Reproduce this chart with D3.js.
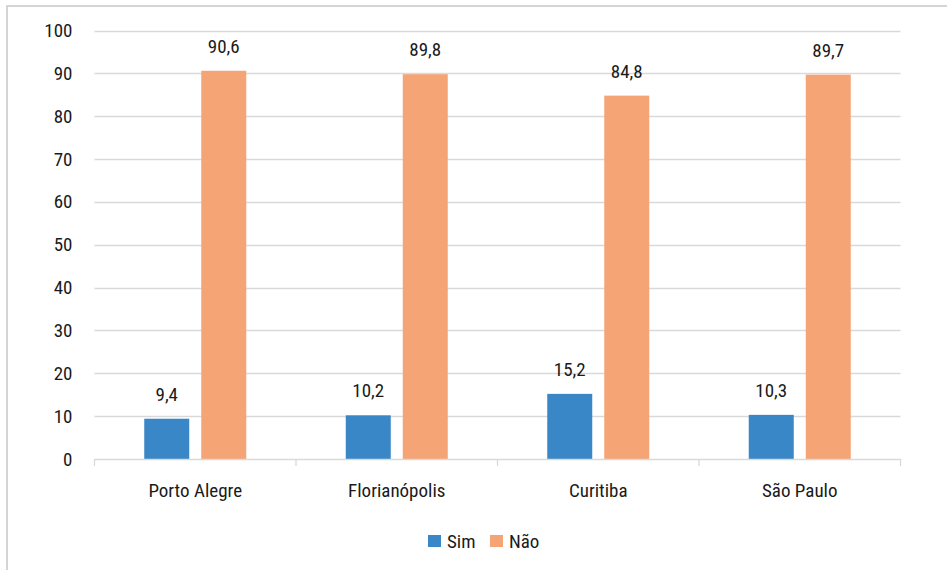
<!DOCTYPE html>
<html>
<head>
<meta charset="utf-8">
<script src="https://cdn.jsdelivr.net/npm/d3@7"></script>
<style>
  html, body { margin: 0; padding: 0; background: #fff; }
  svg { display: block; }
  text { font-family: "Roboto Condensed", Roboto, "Liberation Sans Narrow", sans-serif; fill: #1a1a1a; }
</style>
</head>
<body>
<svg id="chart" width="947" height="570"></svg>
<script>
// Cities and the share of answers "Sim" / "Não" (%)
const categories = ["Porto Alegre", "Florianópolis", "Curitiba", "São Paulo"];
const seriesNames = ["Sim", "Não"];
const simValues = [9.4, 10.2, 15.2, 10.3];
const naoValues = [90.6, 89.8, 84.8, 89.7];
const yTicks = [0, 10, 20, 30, 40, 50, 60, 70, 80, 90, 100];
const colors = ["#3a87c8", "#f4a475"];

const series = [simValues, naoValues];

const svg = d3.select("#chart");
const W = 947, H = 570;
const FS = 19;

// outer frame (left and top edges visible)
svg.append("rect")
  .attr("x", 7).attr("y", 6)
  .attr("width", W + 20).attr("height", H + 20)
  .attr("fill", "none")
  .attr("stroke", "#c8c8c8")
  .attr("stroke-width", 1.5);

const margin = { left: 94.5, right: 46.5, top: 30.5, bottom: 111 };
const x0 = d3.scaleBand()
  .domain(categories)
  .range([margin.left, W - margin.right])
  .paddingInner(0).paddingOuter(0);

const y = d3.scaleLinear()
  .domain([0, 100])
  .range([H - margin.bottom, margin.top]);

const barW = 45, gap = 12;
const x1 = d3.scaleOrdinal()
  .domain(seriesNames)
  .range([-(barW + gap / 2), gap / 2]);

// horizontal gridlines
svg.append("g")
  .selectAll("line")
  .data(yTicks.filter(d => d > 0))
  .join("line")
  .attr("x1", margin.left).attr("x2", W - margin.right)
  .attr("y1", d => Math.round(y(d)) + 0.5)
  .attr("y2", d => Math.round(y(d)) + 0.5)
  .attr("stroke", "#d9d9d9")
  .attr("stroke-width", 1.3);

// y-axis labels
const yAxis = d3.axisLeft(y).tickValues(yTicks).tickSize(0).tickPadding(22);
const gy = svg.append("g")
  .attr("transform", `translate(${margin.left},0)`)
  .call(yAxis);
gy.select(".domain").remove();
gy.selectAll("text")
  .attr("font-size", FS)
  .attr("fill", "#1a1a1a")
  .style("font-family", null);

// bars
const groups = svg.append("g")
  .selectAll("g")
  .data(categories)
  .join("g")
  .attr("transform", d => `translate(${x0(d) + x0.bandwidth() / 2},0)`);

seriesNames.forEach((name, si) => {
  groups.append("rect")
    .attr("x", x1(name))
    .attr("width", barW)
    .attr("y", (d, i) => y(series[si][i]))
    .attr("height", (d, i) => y(0) - y(series[si][i]))
    .attr("fill", colors[si]);

  groups.append("text")
    .attr("x", x1(name) + barW / 2)
    .attr("y", (d, i) => y(series[si][i]) - 18)
    .attr("text-anchor", "middle")
    .attr("font-size", FS)
    .text((d, i) => d3.format(".1f")(series[si][i]).replace(".", ","));
});

// x-axis baseline with category separators
const xAxis = d3.axisBottom(x0).tickSize(0).tickPadding(25);
const gx = svg.append("g")
  .attr("transform", `translate(0,${y(0)})`)
  .call(xAxis);
gx.select(".domain").attr("stroke", "#d9d9d9").attr("stroke-width", 1.3);
gx.selectAll("text")
  .attr("font-size", FS)
  .attr("fill", "#1a1a1a")
  .style("font-family", null);

const seps = [margin.left, ...categories.map(c => x0(c) + x0.bandwidth())];
svg.append("g")
  .selectAll("line")
  .data(seps)
  .join("line")
  .attr("x1", d => d).attr("x2", d => d)
  .attr("y1", y(0)).attr("y2", y(0) + 7)
  .attr("stroke", "#d9d9d9")
  .attr("stroke-width", 1.3);

// legend
const legend = svg.append("g").attr("transform", "translate(428,535)");
const legendItems = legend.selectAll("g")
  .data(seriesNames)
  .join("g")
  .attr("transform", (d, i) => `translate(${i * 62},0)`);
legendItems.append("rect")
  .attr("width", 13).attr("height", 12)
  .attr("fill", (d, i) => colors[i]);
legendItems.append("text")
  .attr("x", 19).attr("y", 12.5)
  .attr("font-size", FS)
  .text(d => d);
</script>
</body>
</html>
